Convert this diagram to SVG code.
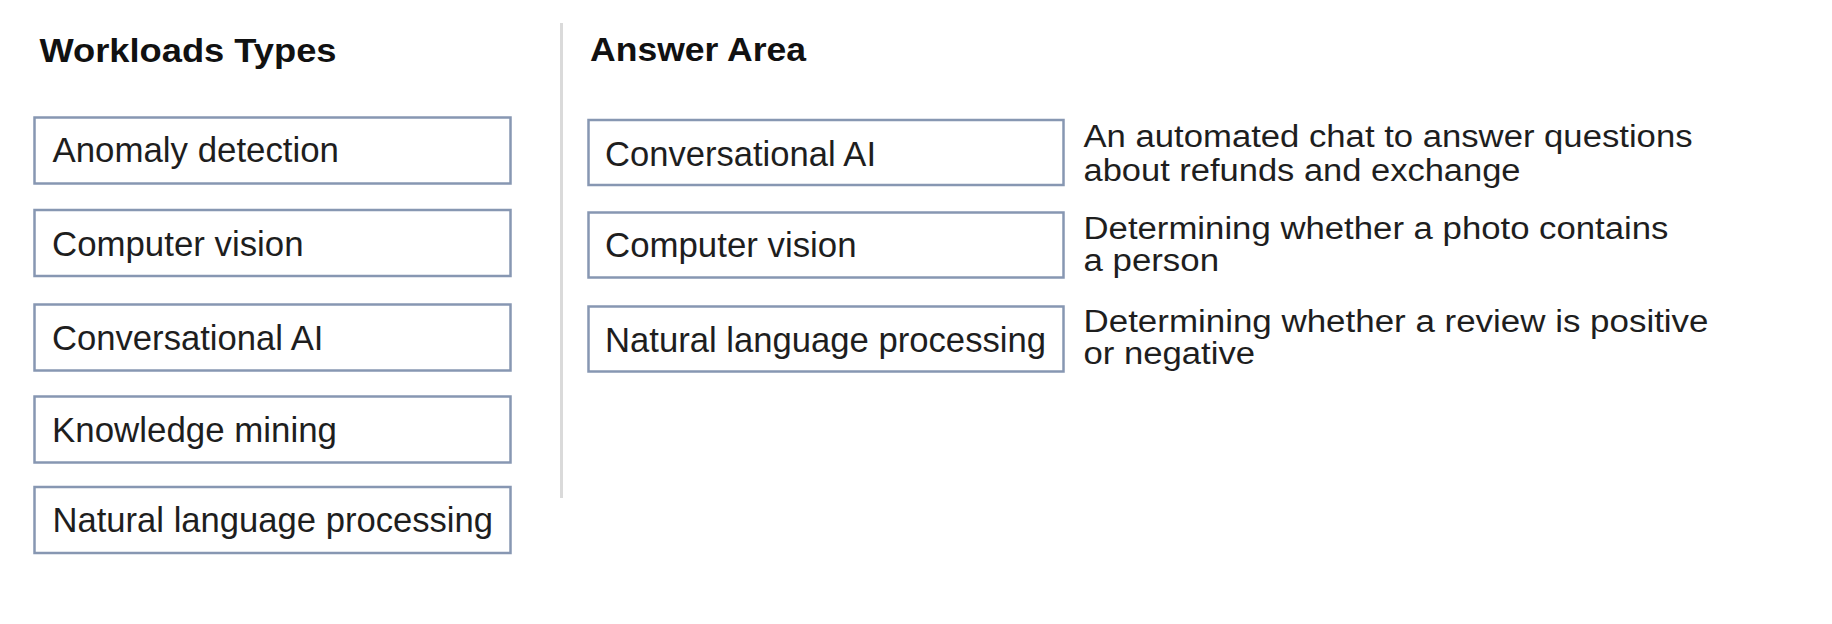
<svg xmlns="http://www.w3.org/2000/svg" width="1832" height="624" viewBox="0 0 1832 624">
  <style>
    .bg { fill: #ffffff; }
    .heading { font-family: "Liberation Sans", Arial, sans-serif; font-weight: bold; font-size: 33px; fill: #111111; }
    .box { fill: #ffffff; stroke: #8797b2; stroke-width: 2.5; }
    .label { font-family: "Liberation Sans", Arial, sans-serif; font-size: 34.5px; fill: #1e1e1e; }
    .desc { font-family: "Liberation Sans", Arial, sans-serif; font-size: 31px; fill: #1e1e1e; }
    .divider { stroke: #dadada; stroke-width: 3; }
  </style>

  <rect class="bg" x="0" y="0" width="1832" height="624"/>

  <!-- Column headings -->
  <text id="heading-workloads" class="heading" x="39.5" y="61.5" textLength="297" lengthAdjust="spacingAndGlyphs">Workloads Types</text>
  <text id="heading-answer" class="heading" x="590" y="61" textLength="216" lengthAdjust="spacingAndGlyphs">Answer Area</text>

  <!-- Vertical separator between the two columns -->
  <line class="divider" x1="561.5" y1="23" x2="561.5" y2="498"/>

  <!-- Workload type choices -->
  <g id="type-anomaly">
    <rect class="box" x="34.5" y="117.5" width="476" height="66"/>
    <text class="label" x="52.5" y="162" textLength="286.5" lengthAdjust="spacingAndGlyphs">Anomaly detection</text>
  </g>
  <g id="type-vision">
    <rect class="box" x="34.5" y="210" width="476" height="66"/>
    <text class="label" x="52" y="255.5" textLength="251.5" lengthAdjust="spacingAndGlyphs">Computer vision</text>
  </g>
  <g id="type-conversational">
    <rect class="box" x="34.5" y="304.5" width="476" height="66"/>
    <text class="label" x="52" y="350" textLength="271.5" lengthAdjust="spacingAndGlyphs">Conversational AI</text>
  </g>
  <g id="type-knowledge">
    <rect class="box" x="34.5" y="396.5" width="476" height="66"/>
    <text class="label" x="52" y="442" textLength="285" lengthAdjust="spacingAndGlyphs">Knowledge mining</text>
  </g>
  <g id="type-nlp">
    <rect class="box" x="34.5" y="487" width="476" height="66"/>
    <text class="label" x="52.5" y="532" textLength="440.5" lengthAdjust="spacingAndGlyphs">Natural language processing</text>
  </g>

  <!-- Answer slots with their scenario descriptions -->
  <g id="answer-1">
    <rect class="box" x="588.5" y="120" width="475" height="65"/>
    <text class="label" x="605" y="166" textLength="271" lengthAdjust="spacingAndGlyphs">Conversational AI</text>
    <text class="desc" x="1083.5" y="147" textLength="609" lengthAdjust="spacingAndGlyphs">An automated chat to answer questions</text>
    <text class="desc" x="1083.5" y="181" textLength="437" lengthAdjust="spacingAndGlyphs">about refunds and exchange</text>
  </g>
  <g id="answer-2">
    <rect class="box" x="588.5" y="212.5" width="475" height="65"/>
    <text class="label" x="605" y="257" textLength="251.5" lengthAdjust="spacingAndGlyphs">Computer vision</text>
    <text class="desc" x="1083.5" y="238.5" textLength="585" lengthAdjust="spacingAndGlyphs">Determining whether a photo contains</text>
    <text class="desc" x="1083.5" y="270.5" textLength="135.5" lengthAdjust="spacingAndGlyphs">a person</text>
  </g>
  <g id="answer-3">
    <rect class="box" x="588.5" y="306.5" width="475" height="65"/>
    <text class="label" x="605" y="352" textLength="441" lengthAdjust="spacingAndGlyphs">Natural language processing</text>
    <text class="desc" x="1083.5" y="332" textLength="625" lengthAdjust="spacingAndGlyphs">Determining whether a review is positive</text>
    <text class="desc" x="1083.5" y="363.5" textLength="171.5" lengthAdjust="spacingAndGlyphs">or negative</text>
  </g>

  <!-- No connectors in this layout -->
  <g id="connectors"/>
</svg>
